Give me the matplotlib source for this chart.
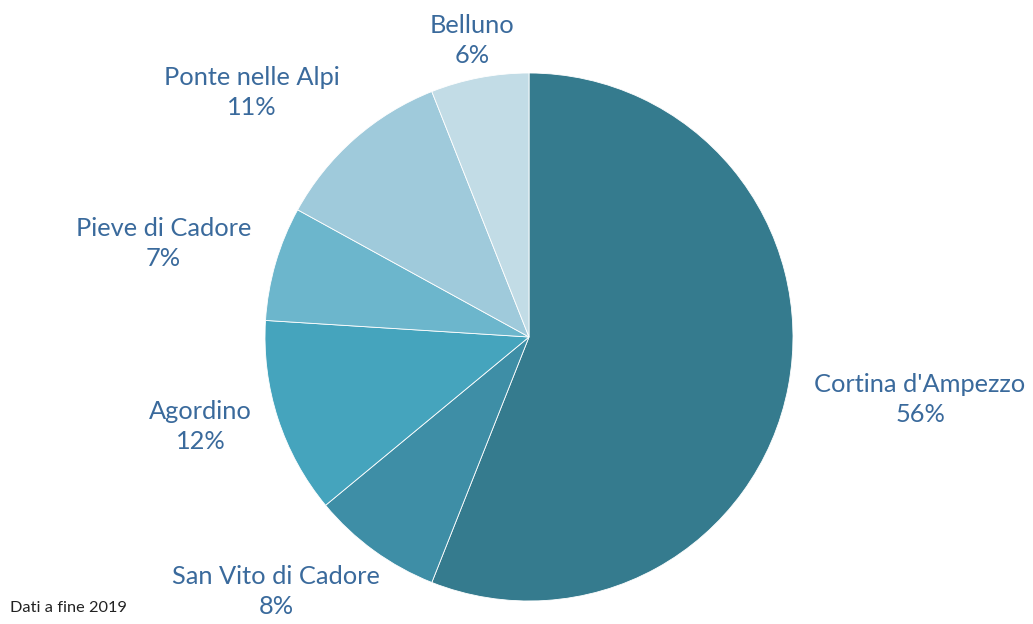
import matplotlib.pyplot as plt
import numpy as np

plt.rcParams['font.family'] = ['Lato', 'DejaVu Sans']

# Data (clockwise from 12 o'clock)
labels = ["Cortina d'Ampezzo", 'San Vito di Cadore', 'Agordino',
          'Pieve di Cadore', 'Ponte nelle Alpi', 'Belluno']
shares = [56, 8, 12, 7, 11, 6]

colors = ['#357b8e', '#3e8ea6', '#45a4bd', '#6cb6cc', '#9fcadb', '#c2dce6']
TXT = '#3a6a9c'

# label placement: radial distance (in radii) and angle nudge (deg)
lab_dist = [1.50, 1.36, 1.29, 1.43, 1.40, 1.145]
lab_nudge = [1.7, -8.8, -2.7, 1.8, 7.2, 0.1]

W, H = 1033, 624
fig = plt.figure(figsize=(W / 100, H / 100), dpi=100)
ax = fig.add_axes([0, 0, 1, 1])

cx, cy, R = 529, H - 337, 264
wedges, _ = ax.pie(shares, colors=colors, startangle=90, counterclock=False,
                   center=(cx, cy), radius=R, frame=True,
                   wedgeprops=dict(edgecolor='white', linewidth=0.6))
ax.set_xlim(0, W)
ax.set_ylim(0, H)
ax.set_aspect('equal')
ax.axis('off')

for w, lab, val, d, nud in zip(wedges, labels, shares, lab_dist, lab_nudge):
    ang = np.deg2rad((w.theta1 + w.theta2) / 2 + nud)
    x = cx + d * R * np.cos(ang)
    y = cy + d * R * np.sin(ang)
    ax.text(x, y, f'{lab}\n{val}%', ha='center', va='center', color=TXT,
            fontsize=18.3, linespacing=1.38)

ax.text(10, H - 608, 'Dati a fine 2019', ha='left', va='center',
        color='#222222', fontsize=11.8)

plt.savefig('out.png', dpi=100, facecolor='white')
